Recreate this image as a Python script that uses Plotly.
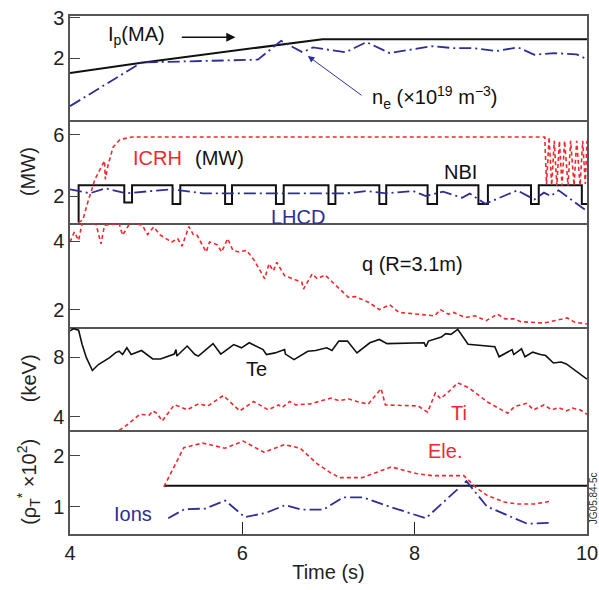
import plotly.graph_objects as go
from plotly.subplots import make_subplots

# ---------------- data ----------------
ip_t = [4.0, 4.81, 6.93, 10.0]
ip_v = [1.64, 1.89, 2.47, 2.47]

ne_t = [4.00, 4.83, 6.18, 6.45, 6.70, 6.82, 7.20, 7.44, 7.71, 8.20, 8.46, 8.69, 8.95, 9.20, 9.39, 9.62, 9.88, 10.0]
ne_v = [0.83, 1.90, 1.97, 2.43, 2.15, 2.27, 2.15, 2.40, 2.13, 2.30, 2.25, 2.25, 2.18, 2.27, 2.09, 2.13, 2.10, 1.98]

icrh_t = [4.10, 4.15, 4.21, 4.29, 4.35, 4.40, 4.41, 4.44, 4.50, 4.58, 4.72, 9.51,
          9.53, 9.56, 9.59, 9.62, 9.65, 9.68, 9.71, 9.74, 9.78, 9.81, 9.85, 9.88, 9.92, 9.95, 9.98, 10.0]
icrh_v = [0.30, 0.49, 1.69, 3.11, 3.77, 4.31, 3.11, 3.99, 5.19, 5.69, 5.85, 5.85,
          2.80, 5.85, 2.70, 5.60, 2.70, 5.60, 2.70, 5.60, 2.70, 5.60, 2.70, 5.60, 2.70, 5.60, 2.80, 5.60]

nbi_t = [4.10, 4.10, 4.63, 4.72, 5.19, 5.28, 5.80, 5.88, 6.39, 6.48, 7.00, 7.08, 7.59, 7.67,
         8.15, 8.26, 8.74, 8.85, 9.35, 9.44, 9.94, 10.0]
nbi_v = [0.30, 2.72, 1.60, 2.72, 1.50, 2.72, 1.50, 2.72, 1.50, 2.72, 1.50, 2.72, 1.50, 2.72,
         1.50, 2.72, 1.50, 2.72, 1.50, 2.72, 1.50, 1.50]

lhcd_t = [4.00, 4.23, 4.41, 4.65, 5.18, 5.54, 7.22, 7.44, 7.67, 7.98, 8.13, 8.33, 8.55, 8.64,
          8.82, 9.19, 9.39, 9.50, 9.58, 9.67, 10.0]
lhcd_v = [2.46, 2.20, 2.52, 2.20, 2.46, 2.20, 2.20, 2.35, 2.20, 2.35, 2.02, 2.31, 1.91, 2.18,
          1.52, 2.39, 1.80, 2.24, 2.02, 2.39, 1.04]

q_t = [4.00, 4.05, 4.10, 4.14, 4.30, 4.36, 4.40, 4.57, 4.61, 4.70, 4.84, 4.90, 4.97, 5.05,
       5.18, 5.25, 5.30, 5.38, 5.43, 5.47, 5.58, 5.62, 5.71, 5.76, 5.83, 5.89, 5.96, 6.05,
       6.14, 6.26, 6.31, 6.36, 6.40, 6.49, 6.69, 6.71, 6.81, 6.87, 6.96, 7.11, 7.23, 7.31,
       7.47, 7.59, 7.71, 7.82, 8.08, 8.23, 8.30, 8.39, 8.45, 8.59, 8.70, 8.83, 8.96, 9.05,
       9.16, 9.23, 9.50, 9.77, 9.86, 10.0]
q_v = [3.98, 4.27, 4.03, 4.52, 4.52, 3.93, 4.47, 4.52, 4.18, 4.55, 4.47, 4.20, 4.42, 4.18,
       3.98, 4.08, 3.86, 4.43, 4.20, 4.20, 3.69, 3.98, 3.90, 3.69, 4.08, 3.74, 3.69, 3.74,
       3.44, 2.91, 3.35, 3.14, 3.39, 3.00, 2.81, 2.61, 3.05, 2.91, 3.02, 2.66, 2.37, 2.39,
       2.22, 2.01, 2.15, 1.93, 1.88, 1.83, 2.01, 1.88, 1.93, 1.78, 1.83, 1.69, 1.88, 1.74,
       1.74, 1.66, 1.62, 1.77, 1.64, 1.59]

te_t = [4.00, 4.04, 4.10, 4.14, 4.19, 4.26, 4.33, 4.46, 4.53, 4.57, 4.61, 4.66, 4.71, 4.83,
        4.96, 5.05, 5.21, 5.23, 5.24, 5.36, 5.45, 5.49, 5.66, 5.75, 5.90, 5.99, 6.08, 6.24,
        6.28, 6.38, 6.49, 6.50, 6.60, 6.76, 6.85, 6.98, 7.04, 7.12, 7.22, 7.33, 7.48, 7.59,
        7.68, 8.11, 8.13, 8.16, 8.31, 8.36, 8.42, 8.50, 8.62, 8.93, 8.98, 9.13, 9.15, 9.24,
        9.28, 9.37, 9.46, 9.52, 9.61, 9.70, 9.76, 10.0]
te_v = [9.76, 9.90, 9.80, 8.86, 7.96, 7.10, 7.50, 7.96, 8.30, 8.39, 8.17, 8.62, 8.17, 8.44,
        7.87, 7.87, 8.20, 8.50, 8.07, 8.74, 8.17, 8.06, 8.90, 8.20, 8.84, 8.62, 8.96, 8.50,
        8.17, 8.28, 8.50, 8.20, 7.83, 8.39, 8.44, 8.62, 8.44, 9.07, 9.07, 8.28, 8.96, 9.18,
        8.90, 8.96, 8.69, 9.07, 9.34, 9.57, 9.52, 9.86, 8.86, 8.69, 8.02, 8.50, 8.17, 8.55,
        8.02, 8.33, 8.17, 8.10, 7.60, 7.67, 7.54, 6.52]

ti_t = [4.57, 4.66, 4.81, 4.92, 4.96, 5.01, 5.07, 5.21, 5.27, 5.36, 5.49, 5.60, 5.78, 5.97,
        6.13, 6.30, 6.42, 6.46, 6.55, 6.62, 6.79, 7.03, 7.12, 7.23, 7.33, 7.46, 7.61, 7.66,
        8.04, 8.15, 8.24, 8.30, 8.42, 8.50, 8.63, 8.85, 9.08, 9.16, 9.30, 9.38, 9.50, 9.59,
        9.67, 9.76, 9.83, 9.92, 10.0]
ti_v = [3.08, 3.44, 4.16, 4.11, 4.39, 4.23, 3.71, 4.79, 4.68, 4.46, 4.86, 4.72, 5.42, 4.39,
        5.02, 4.46, 4.79, 4.61, 5.02, 4.79, 4.86, 5.25, 5.07, 5.20, 5.02, 4.84, 5.88, 4.79,
        4.72, 4.30, 5.59, 5.20, 5.81, 6.27, 5.93, 4.97, 4.23, 4.68, 4.90, 4.46, 4.79, 4.46,
        4.61, 4.39, 4.57, 4.46, 4.16]

ele_t = [5.09, 5.32, 5.54, 5.80, 6.01, 6.25, 6.49, 6.67, 6.87, 7.02, 7.13, 7.39, 7.73, 8.02,
         8.20, 8.57, 8.71, 8.84, 9.04, 9.19, 9.39, 9.56]
ele_v = [1.39, 2.16, 2.25, 2.15, 2.29, 2.07, 2.22, 2.15, 1.84, 1.67, 1.57, 1.57, 1.78, 1.65,
         1.61, 1.61, 1.38, 1.22, 1.09, 1.05, 1.05, 1.10]

ion_t = [5.14, 5.33, 5.57, 5.80, 6.03, 6.28, 6.50, 6.69, 6.94, 7.17, 7.40, 7.67, 8.13, 8.60,
         8.84, 9.09, 9.31, 9.56]
ion_v = [0.77, 0.95, 0.96, 1.12, 0.79, 0.88, 1.03, 0.94, 0.94, 1.18, 1.18, 1.02, 0.77, 1.50,
         1.00, 0.82, 0.66, 0.68]

ref_t = [5.09, 10.0]
ref_v = [1.41, 1.41]

x_ticks = [4, 6, 8, 10]
y_ranges = [[0.5, 3.04], [0.26, 6.98], [1.51, 4.53], [3.08, 10.03], [0.46, 2.5]]
y_ticks = [[2, 3], [2, 6], [2, 4], [4, 8], [1, 2]]

# ---------------- style ----------------
RED = "#f0282d"
BLUE = "#2e2e98"
BLACK = "#111111"
FRAME = "#555555"
FONT = "Liberation Sans, Arial, sans-serif"
DASH_RED = "4px,3px"
DASH_BLUE = "12px,4px,2px,4px"

fig = make_subplots(rows=5, cols=1, shared_xaxes=True, vertical_spacing=0)

def add(t, v, row, color, dash="solid", width=1.8, shape="linear"):
    fig.add_trace(go.Scatter(x=t, y=v, mode="lines",
                             line=dict(color=color, width=width, dash=dash, shape=shape),
                             hoverinfo="skip", showlegend=False), row=row, col=1)

add(ip_t, ip_v, 1, BLACK, width=2)
add(ne_t, ne_v, 1, BLUE, DASH_BLUE, 1.8)
add(nbi_t, nbi_v, 2, BLACK, width=2, shape="hv")
add(icrh_t, icrh_v, 2, RED, DASH_RED, 1.6)
add(lhcd_t, lhcd_v, 2, BLUE, DASH_BLUE, 1.8)
add(q_t, q_v, 3, RED, DASH_RED, 1.6)
add(te_t, te_v, 4, BLACK, width=1.6)
add(ti_t, ti_v, 4, RED, DASH_RED, 1.6)
add(ref_t, ref_v, 5, BLACK, width=2)
add(ele_t, ele_v, 5, RED, DASH_RED, 1.6)
add(ion_t, ion_v, 5, BLUE, DASH_BLUE, 1.8)

tickfont = dict(family=FONT, size=20, color="#222")
for i in range(5):
    fig.update_yaxes(row=i + 1, col=1, range=y_ranges[i], tickvals=y_ticks[i],
                     ticks="inside", ticklen=10, tickwidth=1, tickcolor="#444",
                     showline=True, mirror=True, linecolor=FRAME, linewidth=1.5,
                     showgrid=False, zeroline=False, tickfont=tickfont, automargin=False)
    fig.update_xaxes(row=i + 1, col=1, range=[4, 10], showline=True,
                     mirror=(i == 0), linecolor=FRAME, linewidth=1.5, automargin=False,
                     showgrid=False, zeroline=False, ticks="", showticklabels=False)
fig.update_xaxes(row=5, col=1, tickvals=x_ticks, ticks="inside", ticklen=12,
                 tickcolor="#222", tickwidth=1, showticklabels=True, tickfont=tickfont,
                 ticklabeloverflow="allow",
                 title=dict(text="Time (s)", font=dict(family=FONT, size=20, color="#222"),
                            standoff=2))

ann = []
def text(x, y, s, ref, color=BLACK, size=20, **kw):
    ann.append(dict(x=x, y=y, xref="x" + ref, yref="y" + ref, text=s, showarrow=False,
                    font=dict(family=FONT, size=size, color=color), **kw))

text(4.77, 2.56, "I<sub>p</sub>(MA)", "")
ann.append(dict(x=5.92, y=2.52, ax=5.28, ay=2.52, xref="x", yref="y", axref="x", ayref="y",
                showarrow=True, arrowhead=2, arrowsize=1.3, arrowwidth=1.4,
                arrowcolor=BLACK, text=""))
ann.append(dict(x=6.76, y=2.06, ax=7.40, ay=1.07, xref="x", yref="y", axref="x", ayref="y",
                showarrow=True, arrowhead=2, arrowsize=1.3, arrowwidth=1.0,
                arrowcolor=BLUE, text=""))
text(7.48, 1.05, "n<sub>e</sub> (×10<sup>19</sup> m<sup>−3</sup>)", "", xanchor="left")
text(5.02, 4.5, "ICRH", "2", RED)
text(5.74, 4.5, "(MW)", "2")
text(8.53, 3.56, "NBI", "2")
text(6.65, 0.66, "LHCD", "2", BLUE)
text(7.98, 3.35, "q (R=3.1m)", "3")
text(6.16, 7.17, "Te", "4")
text(8.52, 4.25, "Ti", "4", RED)
text(8.35, 2.1, "Ele.", "5", RED)
text(4.73, 0.86, "Ions", "5", BLUE)

for ref, s in [("2", "(MW)"), ("4", "(keV)"), ("5", "(ρ<sub>T</sub><sup>*</sup> ×10<sup>2</sup>)")]:
    ann.append(dict(x=-0.08, y=0.5, xref="paper", yref="y" + ref + " domain", text=s,
                    textangle=-90, showarrow=False, xanchor="center", yanchor="middle",
                    font=dict(family=FONT, size=20, color="#222")))
ann.append(dict(x=1.0125, y=0.07, xref="paper", yref="paper", text="JG05.84-5c",
                textangle=-90, showarrow=False, xanchor="center", yanchor="middle",
                font=dict(family=FONT, size=10, color="#333")))

fig.update_layout(width=599, height=590, margin=dict(l=70, r=12, t=16, b=56, autoexpand=False),
                  plot_bgcolor="white", paper_bgcolor="white", annotations=ann,
                  showlegend=False, hovermode=False)

fig.write_html("out.html", config={"displayModeBar": False},
               post_script="document.body.style.margin='0';document.body.style.overflow='hidden';")
